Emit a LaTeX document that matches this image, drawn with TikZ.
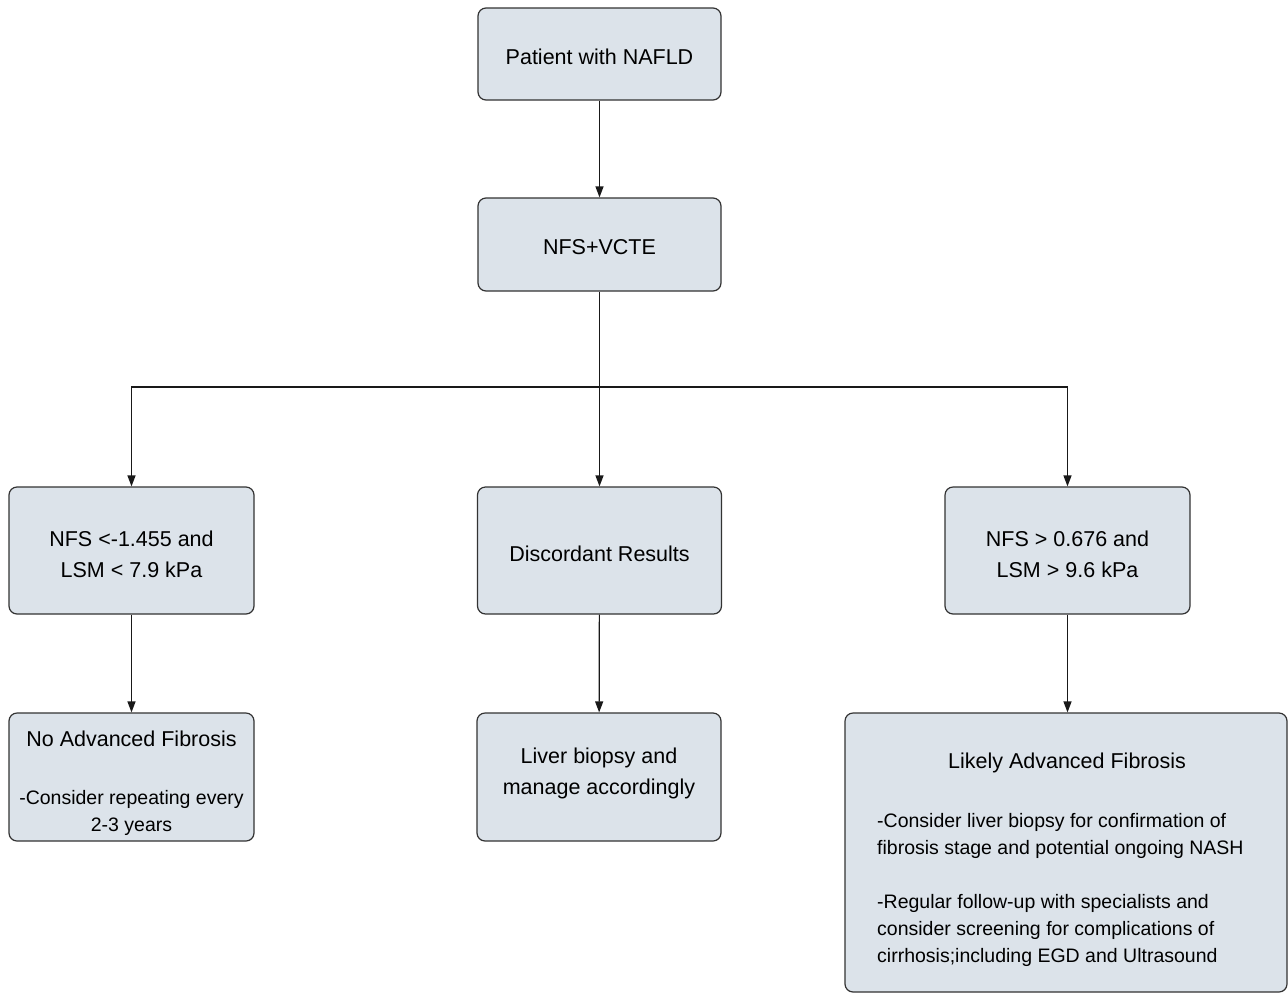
\documentclass[tikz,border=0pt]{standalone}
\usepackage{fontspec}
\setmainfont{Liberation Sans}
\usetikzlibrary{arrows.meta}
\definecolor{boxfill}{HTML}{DCE3EA}
\definecolor{boxline}{HTML}{333333}
\begin{document}
\begin{tikzpicture}[x=1pt,y=-1pt,
  box/.style={draw=boxline, fill=boxfill, line width=1.2pt, rounded corners=8pt, inner sep=0pt},
  big/.style={font=\fontsize{21.5}{31}\selectfont, align=center},
  small/.style={font=\fontsize{19.5}{27}\selectfont},
  conn/.style={draw=black!90, line width=1.2pt, -{Triangle[length=11pt,width=8pt]}}]
\useasboundingbox (0,0) rectangle (1288,994);
\fill[white] (0,0) rectangle (1288,994);

\node[box, minimum width=243pt, minimum height=92pt] (patient) at (599.5,54) {};
\node[big] (patienttext) at (599.5,57) {Patient with NAFLD};
\node[box, minimum width=243pt, minimum height=93pt] (test) at (599.5,244.5) {};
\node[big] (testtext) at (599.5,247.5) {NFS+VCTE};

\node[box, minimum width=245pt, minimum height=127pt] (low) at (131.5,550.5) {};
\node[big] (lowtext) at (131.5,554.5) {NFS <-1.455 and\\LSM < 7.9 kPa};
\node[box, minimum width=244pt, minimum height=127pt] (disc) at (599.5,550.5) {};
\node[big] (disctext) at (599.5,553.5) {Discordant Results};
\node[box, minimum width=245pt, minimum height=127pt] (high) at (1067.5,550.5) {};
\node[big] (hightext) at (1067.5,554.5) {NFS > 0.676 and\\LSM > 9.6 kPa};

\node[box, minimum width=245pt, minimum height=128pt] (noadv) at (131.5,777) {};
\node[big] (noadvtitle) at (131.5,739) {No Advanced Fibrosis};
\node[small, align=center] (noadvtext) at (131.5,812.5) {-Consider repeating every\\2-3 years};

\node[box, minimum width=244pt, minimum height=128pt] (biopsy) at (599,777) {};
\node[big] (biopsytext) at (599,773.5) {Liver biopsy and\\manage accordingly};

\node[box, minimum width=442pt, minimum height=279pt] (likely) at (1066,852.5) {};
\node[big] (likelytitle) at (1067,763) {Likely Advanced Fibrosis};
\node[small, align=left, anchor=west, inner sep=0pt] (likelytext) at (877,889.5) {-Consider liver biopsy for confirmation of\\fibrosis stage and potential ongoing NASH\\[27pt]-Regular follow-up with specialists and\\consider screening for complications of\\cirrhosis;including EGD and Ultrasound};

\coordinate (split) at (599.5,387);
\draw[conn] (patient) -- (test);
\draw[conn] (test) -- (disc);
\draw[conn] (split) -| (low.north);
\draw[conn] (split) -| (high.north);
\draw[conn] (low) -- (noadv);
\draw[conn] (disc) -- (biopsy);
\draw[conn] (high.south) -- (high.south |- likely.north);
\end{tikzpicture}
\end{document}
